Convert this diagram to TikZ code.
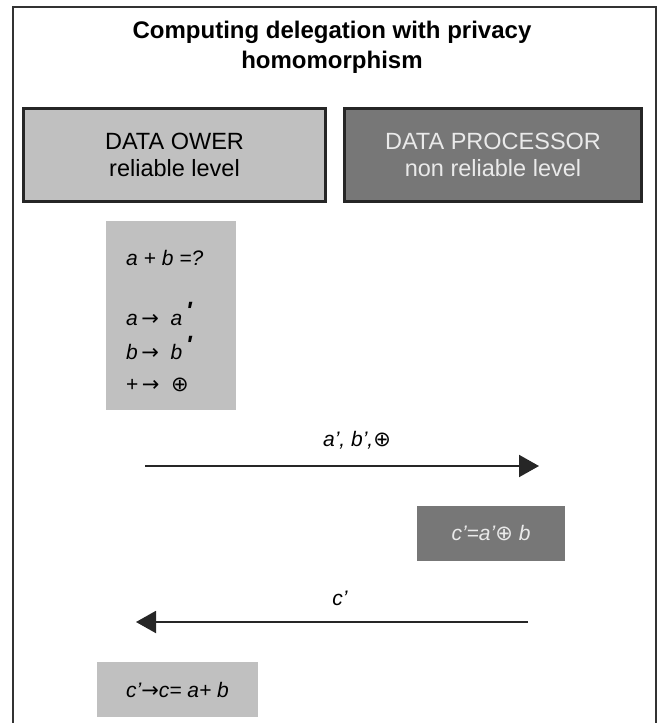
\documentclass[tikz,border=0pt]{standalone}
\usepackage{fontspec}
\setmainfont{Liberation Sans}
\newfontfamily\symfont{DejaVu Sans}
\newfontfamily\tickfont{Liberation Sans}
\usetikzlibrary{arrows.meta}
\definecolor{lightbox}{HTML}{C0C0C0}
\definecolor{darkbox}{HTML}{777777}
\definecolor{boxtext}{HTML}{EAEAEA}
\newcommand{\opl}{{\symfont\char"2295}}
\newcommand{\ar}{{\symfont\char"2192}}
\newcommand{\tick}{\raisebox{6pt}{\tickfont\bfseries\fontsize{25}{25}\selectfont '}}
\begin{document}
\begin{tikzpicture}[x=1pt,y=-1pt,
    level/.style={draw=black!85, line width=3pt, minimum width=#1, minimum height=93pt, inner sep=0pt, align=center, font=\fontsize{23.5}{27}\selectfont},
    graybox/.style={fill=lightbox, minimum width=#1, inner sep=0pt},
    darkgray/.style={fill=darkbox, text=boxtext, minimum width=#1, inner sep=0pt},
    formula/.style={font=\fontsize{21}{24}\selectfont\itshape, inner sep=0pt},
    msg/.style={line width=2pt, black!85, -{Triangle[length=20pt,width=22pt]}}]
    \useasboundingbox (0,0) rectangle (658,723);
    \draw[black!80, line width=2pt] (13,723) -- (13,7) -- (656,7) -- (656,723);

    \node[font=\fontsize{24}{30}\selectfont\bfseries, align=center] (title) at (332,47)
        {Computing delegation with privacy\\homomorphism};

    \node[level=302pt, fill=lightbox] (owner) at (174.5,155) {DATA OWER\\reliable level};
    \node[level=297pt, fill=darkbox, text=boxtext] (processor) at (493,155) {DATA PROCESSOR\\non reliable level};

    % owner side: encoding
    \node[graybox=130pt, minimum height=189pt] (encode) at (171,315.5) {};
    \node[formula, anchor=west] (sum) at (126,258) {a + b =?};
    \node[formula, anchor=west] (mapa) at (126,314) {a\,\ar\ \ a\,\tick};
    \node[formula, anchor=west] (mapb) at (126,348) {b\,\ar\ \ b\,\tick};
    \node[formula, anchor=west] (mapop) at (126,385) {\upshape +\,\ar\ \ \opl};

    % sending to processor
    \coordinate (sendA) at (145,466);
    \coordinate (sendB) at (539,466);
    \draw[msg] (sendA) -- (sendB);
    \node[formula] (sendlbl) at (357,440) {a', b',\opl};

    \node[darkgray=148pt, minimum height=55pt, formula] (compute) at (491,533.5) {c'=a'\opl\ b};

    % result back to owner
    \coordinate (backA) at (528,622);
    \coordinate (backB) at (136,622);
    \draw[msg] (backA) -- (backB);
    \node[formula] (backlbl) at (340,598) {c'};

    \node[graybox=161pt, minimum height=55pt, formula] (decode) at (177.5,689.5) {c'\ar c= a+ b};
\end{tikzpicture}
\end{document}
